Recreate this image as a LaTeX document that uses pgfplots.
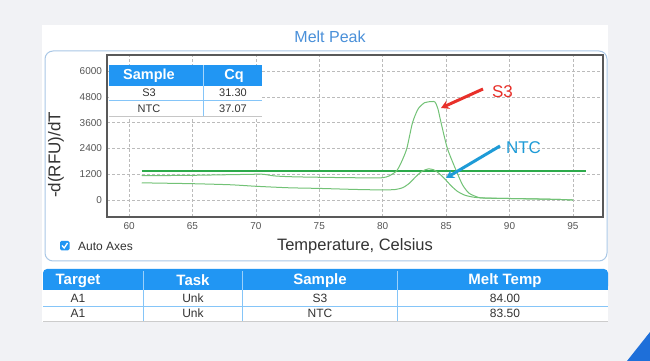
\documentclass[border=0pt]{standalone}
\usepackage{fontspec}
\setmainfont{Liberation Sans}
\usepackage{pgfplots}
\pgfplotsset{compat=1.18}
\usetikzlibrary{arrows.meta}
\definecolor{bg}{HTML}{F1F2F5}
\definecolor{hdr}{HTML}{2196F3}
\definecolor{titlec}{HTML}{4A90D9}
\definecolor{boxb}{HTML}{A9C7E6}
\definecolor{gridc}{HTML}{BBBBBB}
\definecolor{curve}{HTML}{72C276}
\definecolor{flat}{HTML}{2DAA4B}
\definecolor{s3red}{HTML}{E8302A}
\definecolor{ntcblue}{HTML}{1E9BD7}
\definecolor{tickc}{HTML}{555555}
\definecolor{txt}{HTML}{333333}
\definecolor{corner}{HTML}{1E6FD9}
\newcommand{\fs}[1]{\fontsize{#1}{#1}\selectfont}

\begin{document}
\begin{tikzpicture}[x=1pt,y=1pt]
\useasboundingbox (0,0) rectangle (650,361);
\fill[bg] (0,0) rectangle (650,361);
\fill[white] (42,39) rectangle (608,336);
\fill[corner] (627,0) -- (650,0) -- (650,29) -- cycle;
\node[text=titlec, font=\fs{16}] at (330,324) {Melt Peak};
\draw[boxb, line width=1pt, rounded corners=8pt] (45,100) rectangle (607,310);

\begin{axis}[
  at={(107pt,144pt)}, anchor=south west, scale only axis,
  width=496pt, height=162pt,
  xmin=58.26, xmax=97.37, ymin=-790, ymax=6750,
  xtick={60,65,...,95}, ytick={0,1200,...,6000},
  grid=major,
  major grid style={gridc, dash pattern=on 3pt off 2pt, line width=0.6pt},
  major tick length=0pt,
  axis line style={draw=black!65, line width=1.3pt},
  tick label style={font=\fs{10}, text=tickc},
  /pgf/number format/assume math mode=true,
  /pgf/number format/1000 sep={},
  scaled ticks=false,
  xticklabel style={yshift=-2pt},
  yticklabel style={xshift=-1.5pt},
]
% flat line
\addplot[flat, line width=1.8pt] coordinates {(61,1360) (96,1360)};
% S3
\addplot[curve, line width=1pt, smooth, tension=0.4] coordinates {
(61,1130) (63,1140) (65,1150) (67,1170) (69,1190) (70.5,1200) (71.5,1120)
(73,1080) (76,1050) (79,1030) (80,1040) (80.5,1120) (81.1,1360) (81.5,1800)
(81.9,2400) (82.35,3600) (82.8,4250) (83.3,4530) (83.6,4570) (84.1,4570)
(84.35,4250) (84.6,3600) (85.1,2400) (85.8,1360) (86.3,700) (86.8,320)
(87.5,130) (88,90) (90,70) (92,50) (94,25) (95,0)};
% NTC
\addplot[curve, line width=1pt, smooth, tension=0.4] coordinates {
(61,800) (65,760) (68,710) (70,640) (72.6,570) (75,540) (78,490) (80,470)
(81,490) (81.6,580) (82.1,780) (82.6,1080) (83.1,1340) (83.6,1450) (84,1410)
(84.4,1260) (84.9,980) (85.4,660) (85.9,400) (86.5,220) (87.2,130) (88,95)
(90,72) (92,52) (94,25) (95,0)};
\end{axis}

% inset table
\fill[white] (109,245) rectangle (262,296);
\fill[hdr] (109,275) rectangle (262,296);
\draw[hdr!55, line width=0.6pt] (109,260.3) -- (262,260.3);
\draw[gray!45, line width=0.6pt] (109,245) -- (262,245);
\draw[hdr!55, line width=0.6pt] (203,245) -- (203,275);
\draw[white!60!hdr, line width=0.6pt] (203,275) -- (203,296);
\node[font=\fs{14.5}\bfseries, text=white] at (149,285.5) {Sample};
\node[font=\fs{14.5}\bfseries, text=white] at (234,285.5) {Cq};
\node[font=\fs{11}, text=txt] at (149,268) {S3};
\node[font=\fs{11}, text=txt] at (233,268) {31.30};
\node[font=\fs{11}, text=txt] at (149,252.5) {NTC};
\node[font=\fs{11}, text=txt] at (233,252.5) {37.07};

% annotations
\draw[s3red, line width=3pt, -{Stealth[length=8pt,width=9pt]}] (483,272) -- (441,253);
\node[text=s3red, font=\fs{17}] at (502.5,269) {S3};
\draw[ntcblue, line width=3pt, -{Stealth[length=8pt,width=9pt]}] (500,215) -- (446,183);
\node[text=ntcblue, font=\fs{17}] at (523.5,213) {NTC};

% labels
\node[rotate=90, font=\fs{17}, text=txt] at (56,206) {-d(RFU)/dT};
\node[font=\fs{16.5}, text=txt] at (355,115) {Temperature, Celsius};
\fill[hdr, rounded corners=1.5pt] (60,110.5) rectangle (69.5,120);
\draw[white, line width=1.3pt] (62,115.5) -- (64.2,113) -- (67.5,118);
\node[font=\fs{12}, text=txt, anchor=west, inner sep=0pt] at (78,115) {Auto Axes};

% bottom table
\fill[hdr, rounded corners=4pt] (43,71) rectangle (608,92);
\fill[hdr] (43,71) rectangle (608,84);
\foreach \xx in {143,242,397} {
  \draw[white!55!hdr, line width=0.7pt] (\xx,71) -- (\xx,90);
  \draw[hdr!55, line width=0.7pt] (\xx,40) -- (\xx,71);
}
\draw[hdr!55, line width=0.8pt] (43,55) -- (608,55);
\draw[gray!40, line width=0.8pt] (43,40) -- (608,40);
\node[font=\fs{15}\bfseries, text=white] at (78,80.5) {Target};
\node[font=\fs{15}\bfseries, text=white] at (193,80.5) {Task};
\node[font=\fs{15}\bfseries, text=white] at (320,80.5) {Sample};
\node[font=\fs{15}\bfseries, text=white] at (505,80.5) {Melt Temp};
\node[font=\fs{12}, text=txt] at (78,63) {A1};
\node[font=\fs{12}, text=txt] at (193,63) {Unk};
\node[font=\fs{12}, text=txt] at (320,63) {S3};
\node[font=\fs{12}, text=txt] at (505,63) {84.00};
\node[font=\fs{12}, text=txt] at (78,47.5) {A1};
\node[font=\fs{12}, text=txt] at (193,47.5) {Unk};
\node[font=\fs{12}, text=txt] at (320,47.5) {NTC};
\node[font=\fs{12}, text=txt] at (505,47.5) {83.50};
\end{tikzpicture}
\end{document}
